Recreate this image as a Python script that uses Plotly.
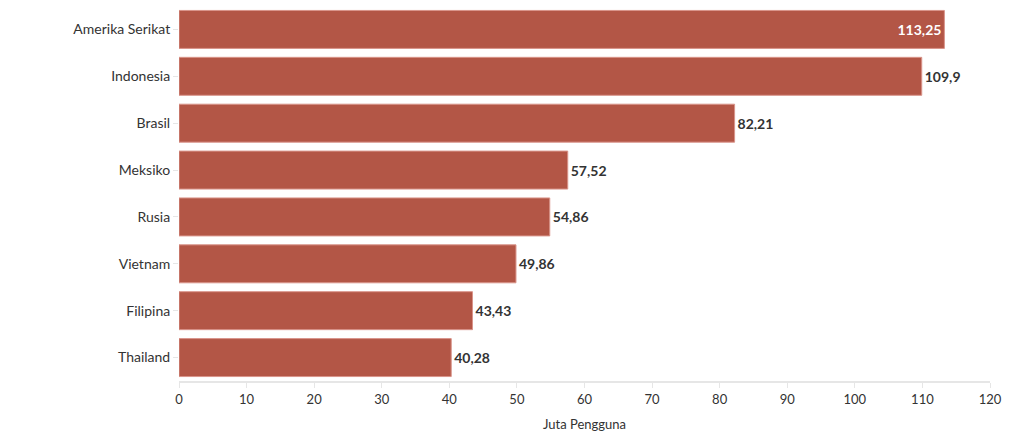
import plotly.graph_objects as go

countries = ["Amerika Serikat", "Indonesia", "Brasil", "Meksiko", "Rusia", "Vietnam", "Filipina", "Thailand"]
values = [113.25, 109.9, 82.21, 57.52, 54.86, 49.86, 43.43, 40.28]
labels = ["113,25", "109,9", "82,21", "57,52", "54,86", "49,86", "43,43", "40,28"]
positions = ["inside", "outside", "outside", "outside", "outside", "outside", "outside", "outside"]

FONT = "Lato"

fig = go.Figure(go.Bar(
    x=values,
    y=countries,
    orientation="h",
    text=[f"<b>{t}</b>" for t in labels],
    textposition=positions,
    insidetextanchor="end",
    outsidetextfont=dict(family=FONT, size=14, color="#333333"),
    insidetextfont=dict(family=FONT, size=14, color="white"),
    marker=dict(color="#b35646", line=dict(color="#d9948a", width=1)),
    cliponaxis=False,
    hoverinfo="skip",
))

fig.update_layout(
    width=1009, height=432,
    margin=dict(l=179, r=19, t=6, b=51),
    plot_bgcolor="white", paper_bgcolor="white",
    bargap=0.19,
    separators=",.",
    showlegend=False,
    font=dict(family=FONT, size=13, color="#333333"),
)
fig.update_xaxes(
    range=[0, 120], dtick=10, tick0=0,
    showgrid=False, zeroline=False, automargin=False,
    showline=True, linecolor="#e6e6e6", linewidth=2,
    ticks="outside", ticklen=5, tickcolor="#e6e6e6", tickwidth=1,
    tickfont=dict(family=FONT, size=13, color="#333333"),
    title=dict(text="Juta Pengguna", font=dict(family=FONT, size=13, color="#333333"), standoff=14),
)
fig.update_yaxes(
    categoryorder="array", categoryarray=countries, autorange="reversed",
    showgrid=False, zeroline=False, showline=False, automargin=False,
    ticks="outside", ticklen=5, tickcolor="#e6e6e6", tickwidth=1,
    tickfont=dict(family=FONT, size=14, color="#333333"),
)

fig.write_html("out.html")
